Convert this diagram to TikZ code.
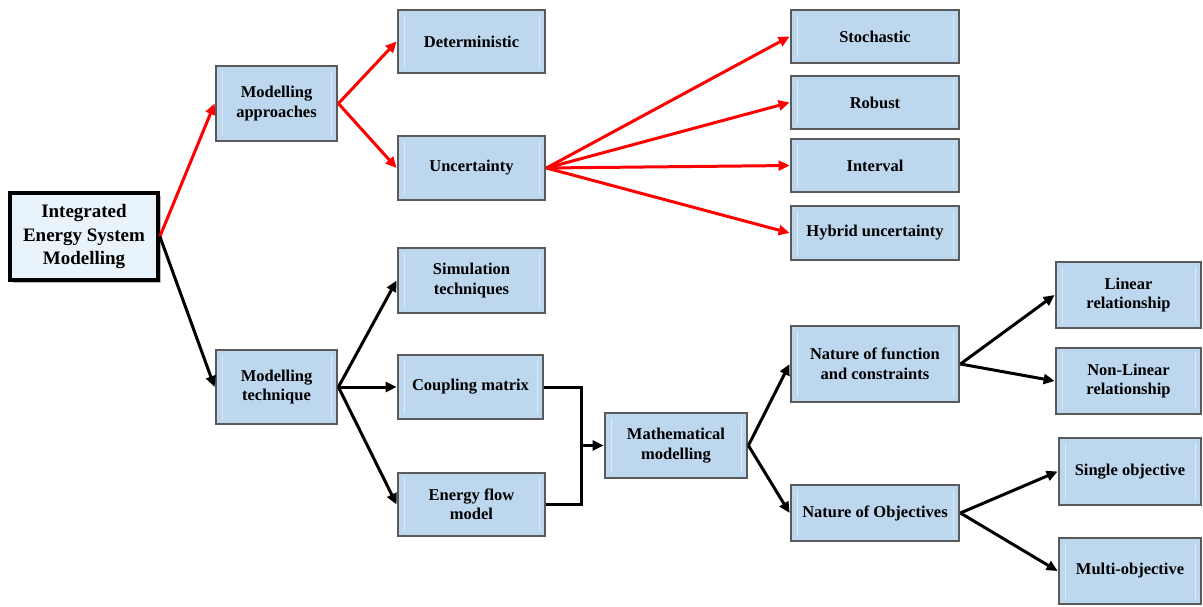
\documentclass[tikz,border=0pt]{standalone}
\usepackage{fontspec}
\setmainfont{Liberation Serif}
\usetikzlibrary{arrows.meta,shadows}
\definecolor{boxfill}{RGB}{189,215,238}
\definecolor{boxline}{RGB}{90,90,90}
\definecolor{rootfill}{RGB}{233,243,251}
\definecolor{bevel}{RGB}{222,235,247}
\tikzset{
  box/.style={draw=boxline, line width=2.8pt, fill=boxfill, align=center,
    inner sep=2pt, font=\fontsize{16.5}{19.5}\selectfont\bfseries,
    path picture={
      \draw[bevel, line width=0.7pt]
        ([xshift=6pt,yshift=-5pt]path picture bounding box.north west) --
        ([xshift=6pt,yshift=5pt]path picture bounding box.south west);
      \draw[bevel, line width=0.7pt]
        ([xshift=-6pt,yshift=-5pt]path picture bounding box.north east) --
        ([xshift=-6pt,yshift=5pt]path picture bounding box.south east);
    }},
  rootbox/.style={draw=black, line width=3.8pt, fill=rootfill, align=center,
    inner sep=2pt, font=\fontsize{19}{23.5}\selectfont\bfseries,
    drop shadow={shadow xshift=3pt, shadow yshift=-3pt, fill=black!45, opacity=0.6}},
  redarrow/.style={draw=red, line width=3pt, -{Triangle[length=11pt,width=10pt]}},
  blkarrow/.style={draw=black, line width=3pt, -{Triangle[length=11pt,width=10pt]}},
  blkline/.style={draw=black, line width=3pt},
}
\begin{document}
\begin{tikzpicture}[x=1pt,y=-1pt]
\useasboundingbox (0,0) rectangle (1203,606);

% root and first level
\node[rootbox, minimum width=148pt, minimum height=87pt] (root) at (84,236.5)
  {Integrated\\Energy System\\Modelling};
\node[box, minimum width=121pt, minimum height=75pt] (app) at (276.5,103.5) {Modelling\\approaches};
\node[box, minimum width=121pt, minimum height=74pt] (tech) at (276.5,387) {Modelling\\technique};

% modelling approaches branch
\node[box, minimum width=147pt, minimum height=63pt] (det) at (471.5,41.5) {Deterministic};
\node[box, minimum width=147pt, minimum height=64pt] (unc) at (471.5,168) {Uncertainty};
\node[box, minimum width=168pt, minimum height=53pt] (sto) at (875,36.5) {Stochastic};
\node[box, minimum width=168pt, minimum height=53pt] (rob) at (875,102.5) {Robust};
\node[box, minimum width=168pt, minimum height=53pt] (int) at (875,165.5) {Interval};
\node[box, minimum width=168pt, minimum height=54pt] (hyb) at (875,233) {Hybrid uncertainty};

% modelling technique branch
\node[box, minimum width=147pt, minimum height=65pt] (sim) at (471.5,280.5) {Simulation\\techniques};
\node[box, minimum width=145pt, minimum height=64pt] (cpl) at (470.5,387) {Coupling matrix};
\node[box, minimum width=147pt, minimum height=63pt] (efm) at (471.5,504.5) {Energy flow\\model};
\node[box, minimum width=142pt, minimum height=65pt] (math) at (676,445.5) {Mathematical\\modelling};
\node[box, minimum width=168pt, minimum height=76pt] (nfc) at (875,364) {Nature of function\\and constraints};
\node[box, minimum width=168pt, minimum height=56pt] (nob) at (875,513) {Nature of Objectives};
\node[box, minimum width=145pt, minimum height=66pt] (lin) at (1128.5,295) {Linear\\relationship};
\node[box, minimum width=145pt, minimum height=66pt] (nlr) at (1128.5,381) {Non-Linear\\relationship};
\node[box, minimum width=142pt, minimum height=67pt] (sgl) at (1130,471.5) {Single objective};
\node[box, minimum width=142pt, minimum height=66pt] (mul) at (1130,571) {Multi-objective};

\coordinate (jn) at (581,445.5);

% red connectors
\draw[redarrow] (root.east) -- (app.west);
\draw[redarrow] (app.east) -- (det.west);
\draw[redarrow] (app.east) -- (unc.west);
\draw[redarrow] (unc.east) -- (sto.west);
\draw[redarrow] (unc.east) -- (rob.west);
\draw[redarrow] (unc.east) -- (int.west);
\draw[redarrow] (unc.east) -- (hyb.west);

% black connectors
\draw[blkarrow] (root.east) -- (tech.west);
\draw[blkarrow] (tech.east) -- (sim.west);
\draw[blkarrow] (tech.east) -- (cpl.west);
\draw[blkarrow] (tech.east) -- (efm.west);
\draw[blkline] (cpl.east) -- (cpl.east -| jn) -- (efm.east -| jn) -- (efm.east);
\draw[blkarrow] (jn) -- (math.west);
\draw[blkarrow] (math.east) -- (nfc.west);
\draw[blkarrow] (math.east) -- (nob.west);
\draw[blkarrow] (nfc.east) -- (lin.west);
\draw[blkarrow] (nfc.east) -- (nlr.west);
\draw[blkarrow] (nob.east) -- (sgl.west);
\draw[blkarrow] (nob.east) -- (mul.west);
\end{tikzpicture}
\end{document}
